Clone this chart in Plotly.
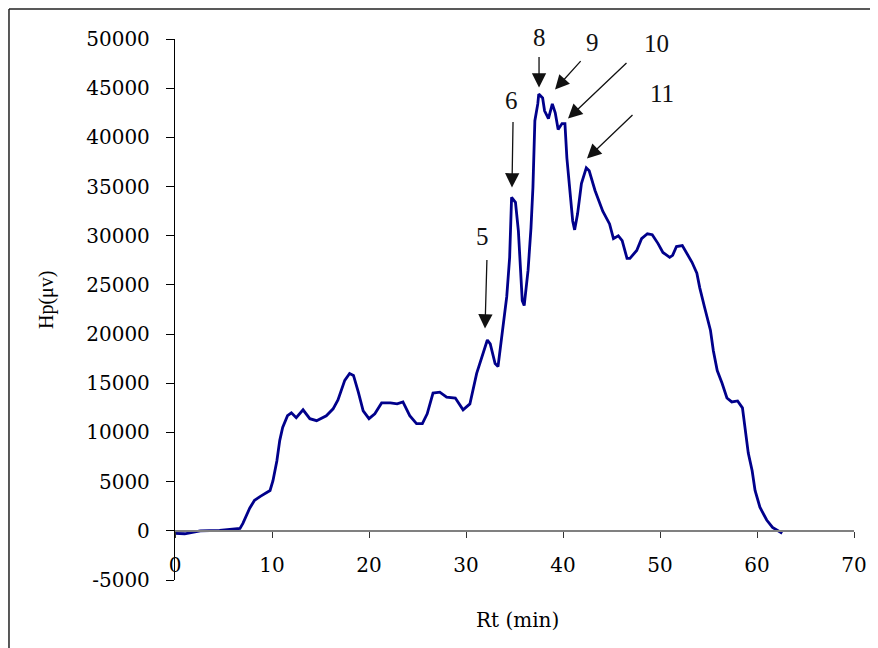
import plotly.graph_objects as go

# retention time (min) and detector signal Hp (uV)
rt_min = [0, 1.0, 2.6, 4.6, 6.7, 7.0, 7.7, 8.2, 8.8, 9.8,
          10.1, 10.5, 10.8, 11.1, 11.6, 12.0, 12.5, 13.2, 13.9, 14.6,
          15.6, 16.3, 16.8, 17.5, 18.0, 18.4, 18.9, 19.4, 20.0, 20.6,
          21.3, 22.2, 22.9, 23.5, 24.2, 24.9, 25.5, 26.0, 26.6, 27.3,
          28.0, 28.9, 29.7, 30.4, 31.1, 31.8, 32.2, 32.5, 33.0, 33.3,
          33.8, 34.2, 34.5, 34.7, 35.1, 35.4, 35.8, 36.0, 36.4, 36.7,
          36.9, 37.1, 37.4, 37.5, 37.9, 38.1, 38.5, 38.9, 39.2, 39.5,
          39.9, 40.2, 40.4, 40.7, 41.0, 41.2, 41.5, 41.9, 42.4, 42.7,
          43.3, 44.1, 44.8, 45.2, 45.7, 46.1, 46.6, 46.9, 47.6, 48.1,
          48.7, 49.2, 49.8, 50.3, 51.0, 51.3, 51.7, 52.3, 52.8, 53.3,
          53.8, 54.1, 54.6, 55.2, 55.5, 55.9, 56.4, 56.9, 57.4, 58.0,
          58.5, 58.8, 59.1, 59.5, 59.8, 60.3, 61.0, 61.6, 62.6]
hp_uv = [-250, -300, 0, 50, 250, 750, 2300, 3100, 3500, 4100,
         5100, 7100, 9200, 10500, 11700, 12000, 11500, 12300, 11400, 11200,
         11700, 12400, 13300, 15300, 16000, 15800, 14100, 12200, 11400, 11900,
         13000, 13000, 12900, 13100, 11700, 10900, 10900, 11900, 14000, 14100,
         13600, 13500, 12300, 12900, 16000, 18200, 19400, 19000, 17000, 16700,
         20700, 23800, 27800, 33900, 33400, 30500, 23400, 22900, 26500, 30800,
         34900, 41700, 43400, 44400, 44000, 42700, 41900, 43400, 42500, 40800,
         41400, 41400, 37900, 34900, 31500, 30600, 32200, 35300, 36900, 36600,
         34600, 32500, 31200, 29700, 30000, 29500, 27700, 27700, 28500, 29700,
         30200, 30100, 29200, 28300, 27800, 28000, 28900, 29000, 28200, 27300,
         26200, 24700, 22700, 20400, 18300, 16300, 15000, 13500, 13100, 13200,
         12500, 10200, 7900, 6100, 4100, 2400, 1100, 350, -250]
assert len(rt_min) == len(hp_uv)

x_ticks = [0, 10, 20, 30, 40, 50, 60, 70]
y_ticks = [-5000, 0, 5000, 10000, 15000, 20000, 25000, 30000, 35000, 40000, 45000, 50000]
y_ticktext = ["-5000", "0", "5000", "10000", "15000", "20000", "25000",
              "30000", "35000", "40000", "45000", "50000"]

peak_labels = ["5", "6", "8", "9", "10", "11"]
# (label x, label y, arrow tail x, tail y, arrow head x, head y) in data units
label_pos = [
    (31.75, 29900, 32.16, 27690, 31.96, 20570),
    (34.74, 43740, 34.85, 41710, 34.74, 34900),
    (37.53, 50140, 37.53, 48310, 37.53, 45060),
    (43.09, 49630, 41.96, 47900, 39.18, 44860),
    (49.69, 49530, 46.70, 47700, 40.52, 41910),
    (50.21, 44450, 47.32, 42420, 42.47, 37850),
]

serif = "DejaVu Serif"
x_min, x_max = 0, 70
y_min, y_max = -5000, 50000


def px(v):
    return (v - x_min) / (x_max - x_min)


def py(v):
    return (v - y_min) / (y_max - y_min)


fig = go.Figure()
fig.add_trace(go.Scatter(
    x=rt_min, y=hp_uv, mode="lines",
    line=dict(color="#00008B", width=2.8),
    showlegend=False, hoverinfo="skip",
))

annotations = []
for lab, (tx, ty, ax_, ay_, hx, hy) in zip(peak_labels, label_pos):
    annotations.append(dict(
        x=hx, y=hy, ax=ax_, ay=ay_, xref="x", yref="y", axref="x", ayref="y",
        text="", showarrow=True, arrowhead=2, arrowsize=2.2, arrowwidth=1.3,
        arrowcolor="#111111", standoff=0, startstandoff=0,
    ))
    # labels may sit above the y range, so place them in paper units
    annotations.append(dict(
        x=px(tx), y=py(ty), xref="paper", yref="paper", text=lab,
        showarrow=False, xanchor="center", yanchor="middle",
        font=dict(family="Liberation Serif", size=25, color="#111111"),
    ))

annotations.append(dict(
    x=-0.1885, y=0.5176, xref="paper", yref="paper", text="Hp(μv)",
    textangle=-90, showarrow=False, xanchor="center", yanchor="middle",
    font=dict(family="Liberation Serif", size=20, color="black"),
))
annotations.append(dict(
    x=0.505, y=-0.074, xref="paper", yref="paper", text="Rt (min)",
    showarrow=False, xanchor="center", yanchor="middle",
    font=dict(family=serif, size=20, color="black"),
))

# page body adds an 8px offset, so the figure is 8px smaller and margins shifted
fig.update_layout(
    width=870, height=640,
    margin=dict(l=167, r=24, t=31, b=68),
    paper_bgcolor="white", plot_bgcolor="white",
    annotations=annotations,
    shapes=[
        dict(type="line", xref="paper", yref="paper", x0=-0.2445, x1=1.04,
             y0=1.0555, y1=1.0555, line=dict(color="#222222", width=1.5)),
        dict(type="line", xref="paper", yref="paper", x0=-0.2445, x1=-0.2445,
             y0=1.0555, y1=-0.13, line=dict(color="#222222", width=1.5)),
    ],
    xaxis=dict(
        range=[x_min, x_max], tickvals=x_ticks, anchor="free",
        position=py(0),
        showline=True, linecolor="#808080", linewidth=2.2,
        ticks="outside", ticklen=6, tickwidth=1, tickcolor="#333333",
        ticklabelstandoff=10, showgrid=False, zeroline=False,
        tickfont=dict(family=serif, size=20, color="black"),
    ),
    yaxis=dict(
        range=[y_min, y_max], tickvals=y_ticks, ticktext=y_ticktext,
        showline=True, linecolor="black", linewidth=1.3,
        ticks="outside", ticklen=8, tickwidth=1, tickcolor="black",
        ticklabelstandoff=12, showgrid=False, zeroline=False,
        tickfont=dict(family=serif, size=20, color="black"),
    ),
)

fig.write_html("out.html")
